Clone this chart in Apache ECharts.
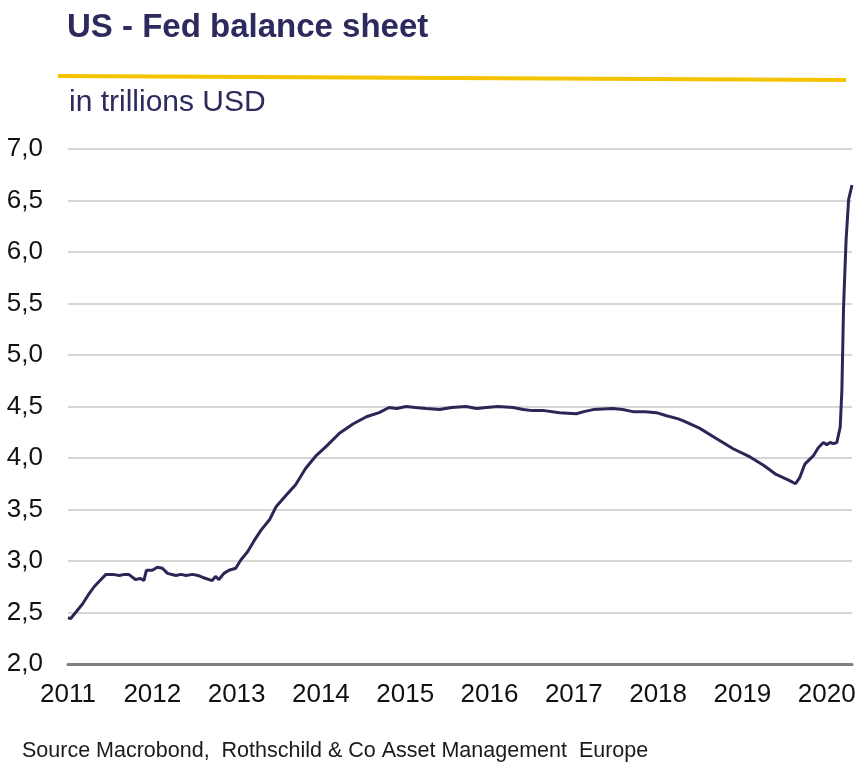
<!DOCTYPE html>
<html>
<head>
<meta charset="utf-8">
<title>US - Fed balance sheet</title>
<script src="https://cdn.jsdelivr.net/npm/echarts@6/dist/echarts.min.js"></script>
<style>
  html, body { margin: 0; padding: 0; background: #fff; }
  #chart { width: 864px; height: 772px; }
</style>
</head>
<body>
<div id="chart"></div>
<script>
// dates as decimal years, values in trillions USD
var dates = [
  2011.00, 2011.03, 2011.10, 2011.17, 2011.24, 2011.31, 2011.38, 2011.45, 2011.53,
  2011.61, 2011.67, 2011.72, 2011.80, 2011.86, 2011.90, 2011.93, 2012.00, 2012.06,
  2012.12, 2012.18, 2012.28, 2012.34, 2012.40, 2012.48, 2012.54, 2012.60, 2012.71,
  2012.75, 2012.79, 2012.85, 2012.91, 2012.99, 2013.05, 2013.13, 2013.21, 2013.29,
  2013.39, 2013.47, 2013.59, 2013.70, 2013.82, 2013.94, 2014.06, 2014.22, 2014.38,
  2014.54, 2014.69, 2014.81, 2014.90, 2015.01, 2015.12, 2015.25, 2015.41, 2015.55,
  2015.72, 2015.85, 2015.96, 2016.10, 2016.28, 2016.40, 2016.51, 2016.65, 2016.83,
  2017.03, 2017.12, 2017.23, 2017.46, 2017.58, 2017.70, 2017.85, 2017.98, 2018.10,
  2018.24, 2018.30, 2018.49, 2018.69, 2018.89, 2019.09, 2019.25, 2019.40, 2019.56,
  2019.63, 2019.68, 2019.74, 2019.84, 2019.90, 2019.96, 2020.00, 2020.04, 2020.08,
  2020.12, 2020.16, 2020.18, 2020.20, 2020.23, 2020.26, 2020.30
];
var values = [
  2.45, 2.44, 2.51, 2.58, 2.67, 2.75, 2.81, 2.87, 2.87,
  2.86, 2.87, 2.87, 2.82, 2.83, 2.81, 2.91, 2.91, 2.94,
  2.93, 2.88, 2.86, 2.87, 2.86, 2.87, 2.86, 2.84, 2.81,
  2.85, 2.82, 2.88, 2.91, 2.93, 3.01, 3.09, 3.20, 3.30,
  3.40, 3.53, 3.64, 3.74, 3.90, 4.02, 4.11, 4.24, 4.33,
  4.40, 4.44, 4.49, 4.48, 4.50, 4.49, 4.48, 4.47, 4.49,
  4.50, 4.48, 4.49, 4.50, 4.49, 4.47, 4.46, 4.46, 4.44,
  4.43, 4.45, 4.47, 4.48, 4.47, 4.45, 4.45, 4.44, 4.41,
  4.38, 4.36, 4.29, 4.19, 4.09, 4.01, 3.93, 3.84, 3.78,
  3.75, 3.81, 3.94, 4.02, 4.10, 4.15, 4.13, 4.15, 4.14,
  4.15, 4.30, 4.66, 5.47, 6.12, 6.51, 6.65
];
var yearTicks = [2011, 2012, 2013, 2014, 2015, 2016, 2017, 2018, 2019, 2020];

var navy = '#2d2a5e';
var fontFamily = '"Liberation Sans", Arial, sans-serif';

var seriesData = [];
for (var i = 0; i < dates.length; i++) {
  seriesData.push([dates[i], values[i]]);
}

var chart = echarts.init(document.getElementById('chart'));

chart.setOption({
  animation: false,
  backgroundColor: '#ffffff',
  textStyle: { fontFamily: fontFamily },
  title: [
    {
      text: 'US - Fed balance sheet',
      left: 62,
      top: 6,
      textStyle: { fontSize: 33, fontWeight: 'bold', color: navy, fontFamily: fontFamily }
    },
    {
      text: 'in trillions USD',
      left: 64,
      top: 83,
      textStyle: { fontSize: 30, fontWeight: 'normal', color: navy, fontFamily: fontFamily }
    }
  ],
  graphic: [
    {
      type: 'line',
      shape: { x1: 58, y1: 76, x2: 846, y2: 80 },
      style: { stroke: '#f4c300', lineWidth: 4 }
    },
    {
      type: 'text',
      left: 22,
      top: 740,
      style: {
        text: 'Source Macrobond,  Rothschild & Co Asset Management  Europe',
        fontSize: 21.5,
        fontFamily: fontFamily,
        fill: '#1a1a1a'
      }
    }
  ],
  grid: {
    left: 68,
    right: 12,
    top: 149,
    bottom: 108,
    containLabel: false
  },
  xAxis: {
    type: 'value',
    min: 2011,
    max: 2020.3,
    axisLine: { show: true, lineStyle: { color: '#808080', width: 3 } },
    axisTick: { show: false },
    splitLine: { show: false },
    axisLabel: {
      customValues: yearTicks,
      margin: 18,
      fontSize: 26,
      color: '#111111',
      formatter: function (v) { return String(Math.round(v)); }
    }
  },
  yAxis: {
    type: 'value',
    min: 2,
    max: 7,
    interval: 0.5,
    axisLine: { show: false },
    axisTick: { show: false },
    splitLine: { lineStyle: { color: '#c8c8c8', width: 1.5 } },
    axisLabel: {
      margin: 25,
      fontSize: 26,
      color: '#111111',
      formatter: function (v) { return v.toFixed(1).replace('.', ','); }
    }
  },
  series: [
    {
      type: 'line',
      data: seriesData,
      showSymbol: false,
      smooth: false,
      lineStyle: { color: '#2a2656', width: 3 }
    }
  ]
});
</script>
</body>
</html>
